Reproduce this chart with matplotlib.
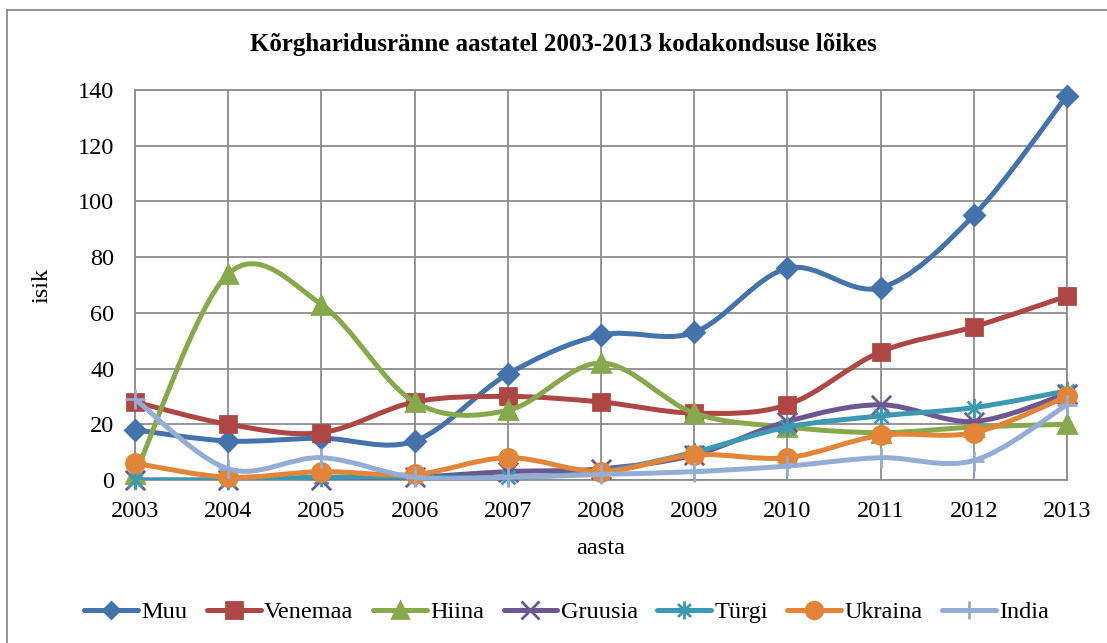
import matplotlib
matplotlib.use("Agg")
import matplotlib.pyplot as plt
import numpy as np
from matplotlib.path import Path
from matplotlib.patches import PathPatch
from matplotlib.lines import Line2D

years = [2003, 2004, 2005, 2006, 2007, 2008, 2009, 2010, 2011, 2012, 2013]
muu = [18, 14, 15, 14, 38, 52, 53, 76, 69, 95, 138]
venemaa = [28, 20, 17, 28, 30, 28, 24, 27, 46, 55, 66]
hiina = [2, 74, 63, 28, 25, 42, 24, 19, 17, 19, 20]
gruusia = [0, 0, 0, 1, 3, 4, 9, 21, 27, 21, 31]
turgi = [0, 0, 1, 1, 1, 3, 10, 19, 23, 26, 32]
ukraina = [6, 1, 3, 2, 8, 3, 9, 8, 16, 17, 30]
india = [29, 4, 8, 1, 1, 2, 3, 5, 8, 7, 27]

series_names = ["Muu", "Venemaa", "Hiina", "Gruusia", "Türgi", "Ukraina", "India"]
title = "Kõrgharidusränne aastatel 2003-2013 kodakondsuse lõikes"

plt.rcParams['font.family'] = ['Liberation Serif', 'DejaVu Serif']

star = Path([(0, -1), (0, 1), (-0.72, -0.72), (0.72, 0.72), (-0.72, 0.72), (0.72, -0.72)],
            [Path.MOVETO, Path.LINETO, Path.MOVETO, Path.LINETO, Path.MOVETO, Path.LINETO])
xm = Path([(-0.72, -0.72), (0.72, 0.72), (-0.72, 0.72), (0.72, -0.72)],
          [Path.MOVETO, Path.LINETO, Path.MOVETO, Path.LINETO])
plus = Path([(0, -1), (0, 1), (-1, 0), (1, 0)],
            [Path.MOVETO, Path.LINETO, Path.MOVETO, Path.LINETO])

styles = [
    dict(color='#4472AA', marker='D', ms=10, lms=8),
    dict(color='#AE4744', marker='s', ms=12, lms=12),
    dict(color='#87A94B', marker='^', ms=13, lms=12),
    dict(color='#6E5790', marker=xm, ms=14, lms=13),
    dict(color='#3B99B2', marker=star, ms=14, lms=13),
    dict(color='#E28538', marker='o', ms=13, lms=12),
    dict(color='#93ADD5', marker=plus, ms=14, lms=13),
]
data = [muu, venemaa, hiina, gruusia, turgi, ukraina, india]

fig = plt.figure(figsize=(11.07, 6.43), dpi=100)
ax = fig.add_axes([135/1107, 1-480/643, (1067-135)/1107, (480-90)/643])

def smooth_path(x, y):
    pts = np.column_stack([x, y]).astype(float)
    n = len(pts)
    verts = [pts[0]]
    codes = [Path.MOVETO]
    for i in range(n - 1):
        p0 = pts[i - 1] if i > 0 else pts[i]
        p1 = pts[i]
        p2 = pts[i + 1]
        p3 = pts[i + 2] if i + 2 < n else pts[i + 1]
        c1 = p1 + (p2 - p0) / 6.0
        c2 = p2 - (p3 - p1) / 6.0
        verts += [c1, c2, p2]
        codes += [Path.CURVE4] * 3
    return Path(verts, codes)

handles = []
for i, (name, vals, st) in enumerate(zip(series_names, data, styles)):
    c = st['color']
    patch = PathPatch(smooth_path(years, vals), facecolor='none', edgecolor=c, lw=3.6,
                      zorder=3 + i * 0.1, capstyle='round', joinstyle='round')
    ax.add_patch(patch)
    ax.plot(years, vals, linestyle='none', marker=st['marker'], ms=st['ms'],
            color=c, mec=c, mew=2.0, zorder=3.05 + i * 0.1, clip_on=False)
    handles.append(Line2D([0], [0], color=c, lw=3.6, marker=st['marker'], ms=st['lms'],
                          mec=c, mew=2.0, solid_capstyle='round'))

ax.set_xlim(2003, 2013)
ax.set_ylim(0, 140)
ax.set_xticks(years)
ax.set_yticks(range(0, 141, 20))
ax.grid(True, color='#8C8C8C', lw=1.3)
ax.set_axisbelow(True)
for s in ax.spines.values():
    s.set_color('#8C8C8C')
    s.set_linewidth(1.3)
ax.tick_params(axis='both', length=0, labelsize=17.5, colors='black')
ax.tick_params(axis='y', pad=15)
ax.tick_params(axis='x', pad=15)
ax.set_xlabel('aasta', fontsize=17.5, labelpad=12)
ax.set_ylabel('isik', fontsize=17.5, labelpad=18)
fig.text(563/1107, 1-45/643, title, fontsize=18, fontweight='bold', ha='center', va='center')

fig.legend(handles, series_names, loc='center', bbox_to_anchor=(0.512, 1-612/643), ncol=7,
           frameon=False, fontsize=17.5, handlelength=2.2, handletextpad=0.15,
           columnspacing=0.8, borderpad=0, borderaxespad=0)

fig.add_artist(Line2D([7/1107, 7/1107], [0, 1-10/643], transform=fig.transFigure,
                      color='#8C8C8C', lw=1.3))
fig.add_artist(Line2D([7/1107, 1], [1-10/643, 1-10/643], transform=fig.transFigure,
                      color='#8C8C8C', lw=1.3))

fig.savefig('out.png', dpi=100)
